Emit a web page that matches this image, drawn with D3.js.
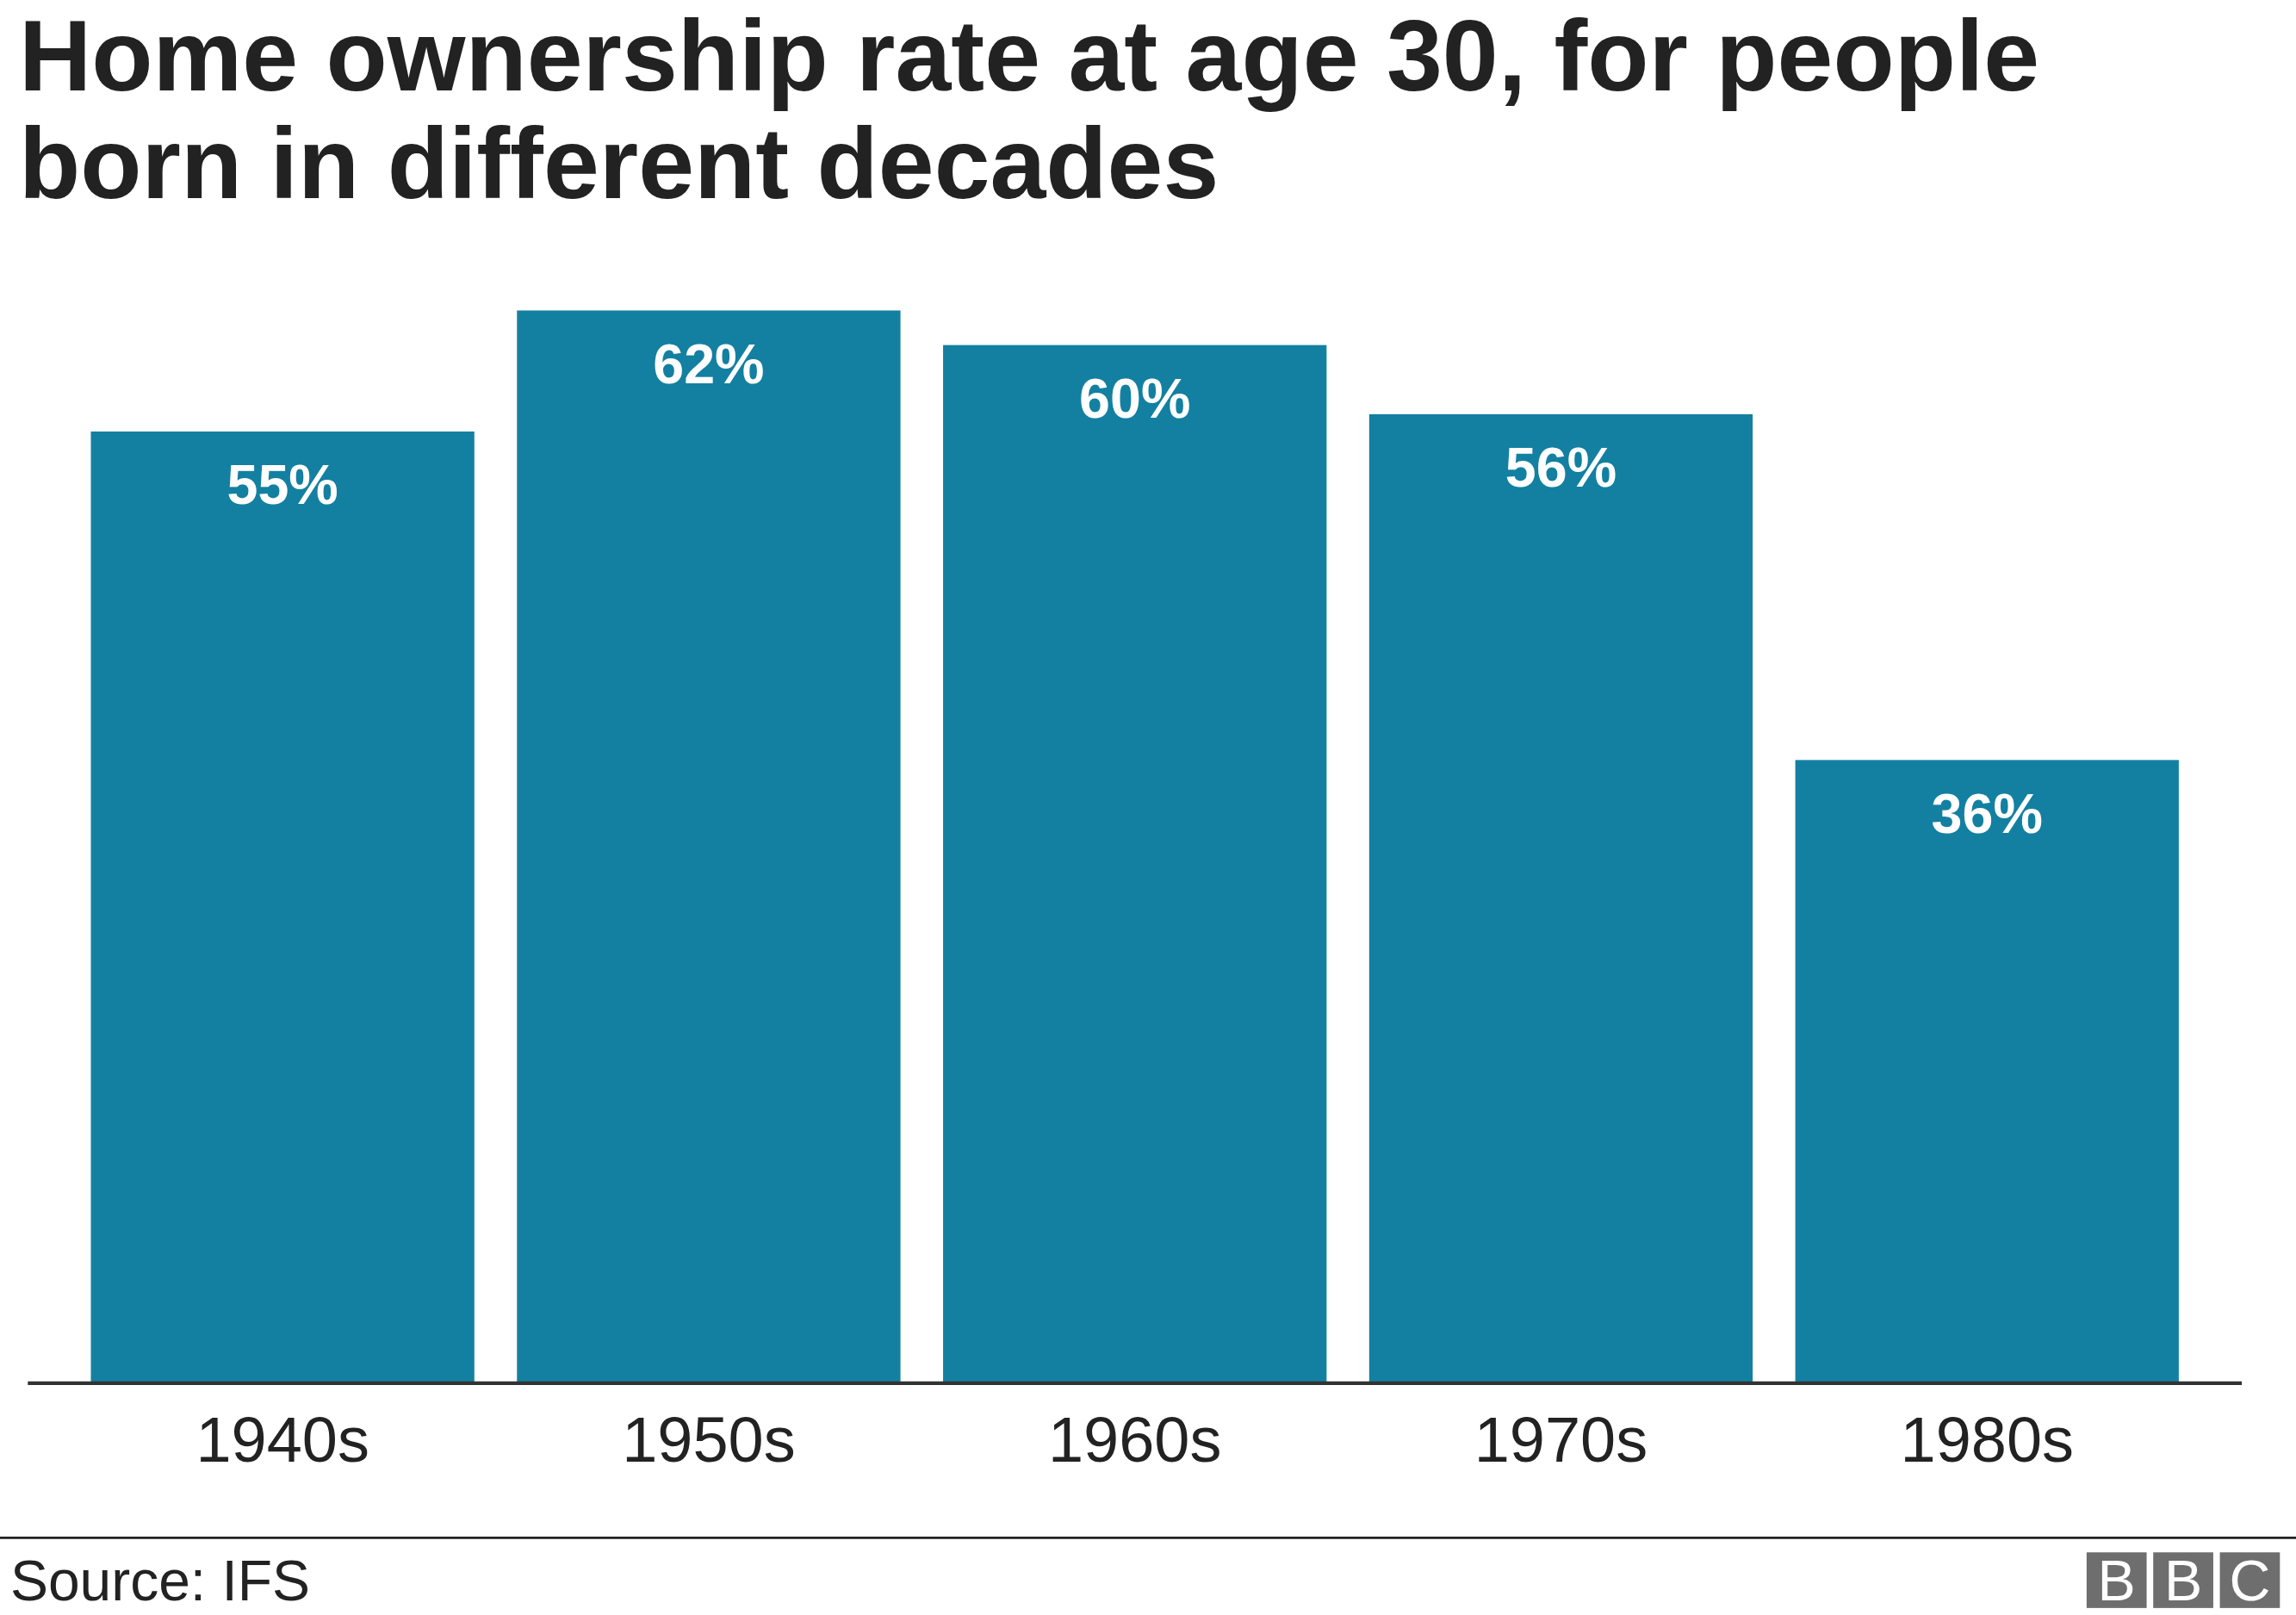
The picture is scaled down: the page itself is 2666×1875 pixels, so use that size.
<!DOCTYPE html>
<html>
<head>
<meta charset="utf-8">
<script src="https://cdn.jsdelivr.net/npm/d3@7"></script>
<style>
  html, body { margin: 0; padding: 0; background: #fff; }
  svg { display: block; }
  text { font-family: "Liberation Sans", Arial, Helvetica, sans-serif; }
</style>
</head>
<body>
<div id="chart"></div>
<script>
// data
var decades = ["1940s", "1950s", "1960s", "1970s", "1980s"];
var ownership = [55, 62, 60, 56, 36];
var titleLines = ["Home ownership rate at age 30, for people", "born in different decades"];
var source = "Source: IFS";

// drawing in a 1568-wide coordinate space, scaled up to the window
var W = 1568, H = 1875 * 1568 / 2666;

var svg = d3.select("#chart").append("svg")
    .attr("width", 2666)
    .attr("height", 1875)
    .attr("viewBox", "0 0 " + W + " " + H);

svg.append("rect").attr("width", W).attr("height", H).attr("fill", "#fff");

// title
svg.selectAll("text.title")
  .data(titleLines)
  .enter().append("text")
    .attr("class", "title")
    .attr("x", 13)
    .attr("y", function(d, i) { return 62 + i * 73; })
    .attr("font-size", 68.6)
    .attr("font-weight", "bold")
    .attr("fill", "#222222")
    .text(function(d) { return d; });

var baseY = 944;

var x = d3.scaleBand()
    .domain(decades)
    .range([47.5, 1502.5])
    .paddingInner(0.1)
    .paddingOuter(0.05);

var y = d3.scaleLinear()
    .domain([0, 62])
    .range([baseY, 212]);

var rows = decades.map(function(d, i) { return {decade: d, value: ownership[i]}; });

svg.selectAll("rect.bar")
  .data(rows)
  .enter().append("rect")
    .attr("class", "bar")
    .attr("x", function(d) { return x(d.decade); })
    .attr("y", function(d) { return y(d.value); })
    .attr("width", x.bandwidth())
    .attr("height", function(d) { return baseY - y(d.value); })
    .attr("fill", "#1380A1");

svg.selectAll("text.val")
  .data(rows)
  .enter().append("text")
    .attr("class", "val")
    .attr("x", function(d) { return x(d.decade) + x.bandwidth() / 2; })
    .attr("y", function(d) { return y(d.value) + 49.5; })
    .attr("text-anchor", "middle")
    .attr("font-size", 38)
    .attr("font-weight", "bold")
    .attr("fill", "#ffffff")
    .text(function(d) { return d.value + "%"; });

// baseline
svg.append("line")
  .attr("x1", 19).attr("x2", 1531)
  .attr("y1", baseY + 0.5).attr("y2", baseY + 0.5)
  .attr("stroke", "#333333")
  .attr("stroke-width", 2.4);

// x axis labels
var xAxis = svg.append("g")
    .attr("transform", "translate(0," + baseY + ")")
    .call(d3.axisBottom(x).tickSize(0).tickPadding(54));
xAxis.select(".domain").remove();
xAxis.selectAll("text")
    .attr("font-size", 43.5)
    .attr("font-family", "\"Liberation Sans\", Arial, Helvetica, sans-serif")
    .attr("fill", "#222222")
    .attr("dy", 0);

// footer
svg.append("line")
  .attr("x1", 0).attr("x2", W)
  .attr("y1", 1050).attr("y2", 1050)
  .attr("stroke", "#222222")
  .attr("stroke-width", 1.6);

svg.append("text")
  .attr("x", 7)
  .attr("y", 1093)
  .attr("font-size", 38.8)
  .attr("fill", "#222222")
  .text(source);

// BBC blocks
var logo = svg.append("g").attr("transform", "translate(1425,1060)");
var letters = ["B", "B", "C"];
logo.selectAll("rect")
  .data(letters)
  .enter().append("rect")
    .attr("x", function(d, i) { return i * 45.5; })
    .attr("y", 0)
    .attr("width", 41)
    .attr("height", 38)
    .attr("fill", "#6e6e6e");
logo.selectAll("text")
  .data(letters)
  .enter().append("text")
    .attr("x", function(d, i) { return i * 45.5 + 20.5; })
    .attr("y", 33)
    .attr("text-anchor", "middle")
    .attr("font-size", 39)
    .attr("fill", "#ffffff")
    .text(function(d) { return d; });
</script>
</body>
</html>
